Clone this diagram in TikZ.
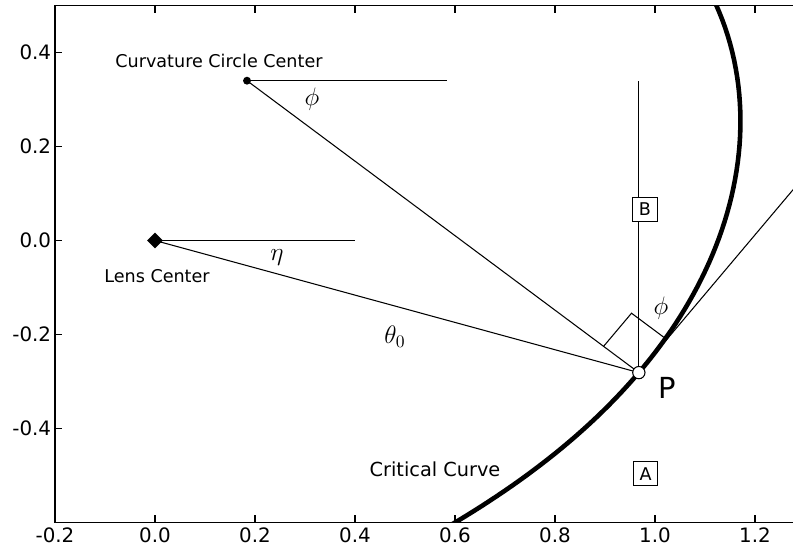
\documentclass[tikz,border=0pt]{standalone}
\usepackage{fontspec}
\setmainfont{DejaVu Sans}
\usetikzlibrary{calc, shapes.geometric}

\begin{document}
\begin{tikzpicture}[x=10cm, y=9.4cm,
    thinline/.style={line width=0.6pt},
    labeltext/.style={font=\fontsize{10}{12}\selectfont, inner sep=0pt},
    ticktext/.style={font=\fontsize{11.3}{13}\selectfont, inner sep=0pt},
    anglelabel/.style={font=\fontsize{14.4}{17}\selectfont, inner sep=0pt},
    regionbox/.style={draw, line width=0.5pt, fill=white, font=\fontsize{10}{12}\selectfont, minimum size=14pt, inner sep=0pt},
    declare function={critR(\t)=1+0.0059*((\t+38.4)/100)+0.1651*((\t+38.4)/100)^2-0.798*((\t+38.4)/100)^3;}]
    % Define axis limits
    \def\xMin{-0.2}
    \def\xMax{1.276}
    \def\yMin{-0.6}
    \def\yMax{0.5}
    \def\phiAngle{38.4}
    \pgfmathsetmacro\tanAngle{90-\phiAngle}
    \pgfmathsetmacro\backAngle{180-\phiAngle}

    \definecolor{curveColour}{HTML}{000000}

    % Fix the page size
    \useasboundingbox (-0.31,-0.6628) rectangle (1.276,0.5117);

    % Draw frame
    \draw[line width=0.9pt] (\xMax,\yMax) -- (\xMin,\yMax) -- (\xMin,\yMin) -- (\xMax,\yMin);

    % Label x-axis and y-axis
    \foreach \x [count=\i] in {-0.2,0.0,0.2,0.4,0.6,0.8,1.0,1.2} {
        \draw[thinline] (\x,\yMin) -- ++(0,4pt);
        \draw[thinline] (\x,\yMax) -- ++(0,-4pt);
        \node[ticktext, anchor=north] (xlab\i) at ([yshift=-3pt]\x,\yMin) {\x};
    }
    \foreach \y [count=\i] in {-0.4,-0.2,0.0,0.2,0.4} {
        \draw[thinline] (\xMin,\y) -- ++(4pt,0);
        \node[ticktext, anchor=east] (ylab\i) at ([xshift=-2pt]\xMin,\y) {\y};
    }

    % Define the key points
    \coordinate (lens) at (0,0);
    \coordinate (lensRef) at (0.4,0);
    \coordinate (ccc) at (0.184,0.34);
    \coordinate (cccRef) at (0.584,0.34);
    \path (ccc) ++(-\phiAngle:1) coordinate (P);
    \coordinate (Ptop) at (P |- ccc);
    \path (P) ++(\tanAngle:0.5) coordinate (tanEnd);

    % Draw the construction lines
    \draw[thinline] (lens) -- (lensRef);
    \draw[thinline] (lens) -- (P);
    \draw[thinline] (ccc) -- (cccRef);
    \draw[thinline] (ccc) -- (P);
    \draw[thinline] (P) -- (Ptop);
    \draw[thinline] (P) -- (tanEnd);

    % Right angle mark
    \draw[thinline] (P) ++(\backAngle:0.09) -- ++(\tanAngle:0.09) -- ++(-\phiAngle:0.09);

    % Draw the critical curve
    \begin{scope}
        \clip (\xMin,\yMin) rectangle (\xMax,\yMax);
        \draw[line width=2.6pt, curveColour] plot[domain=-71:12, samples=80, variable=\t]
            ({0.184+critR(\t)*cos(\t)}, {0.34+critR(\t)*sin(\t)});
    \end{scope}

    % Draw the markers
    \node[diamond, fill=black, inner sep=0pt, minimum size=9pt] (lensMark) at (lens) {};
    \node[circle, fill=black, inner sep=0pt, minimum size=4.5pt] (cccMark) at (ccc) {};
    \node[circle, draw=black, fill=white, line width=0.6pt, inner sep=0pt, minimum size=7pt] (PMark) at (P) {};

    % Labels
    \node[labeltext] (cccLabel) at (0.128,0.383) {Curvature Circle Center};
    \node[labeltext] (lensLabel) at (0.004,-0.0766) {Lens Center};
    \node[labeltext, font=\fontsize{11}{13}\selectfont] (curveLabel) at (0.560,-0.487) {Critical Curve};
    \node[anglelabel] (etaLabel) at (0.244,-0.036) {$\eta$};
    \node[anglelabel] (phiTop) at (0.314,0.30) {$\phi$};
    \node[anglelabel] (thetaLabel) at (0.48,-0.204) {$\theta_0$};
    \node[anglelabel] (phiRight) at (1.012,-0.145) {$\phi$};
    \node[font=\fontsize{16.5}{20}\selectfont, inner sep=0pt] (PLabel) at (1.024,-0.313) {P};
    \node[regionbox] (boxB) at (0.98,0.066) {B};
    \node[regionbox] (boxA) at (0.981,-0.496) {A};

\end{tikzpicture}
\end{document}
